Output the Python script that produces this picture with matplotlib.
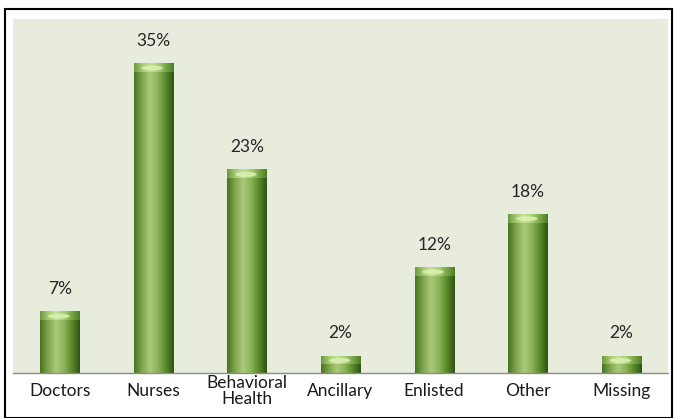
import matplotlib.pyplot as plt
import numpy as np
from matplotlib.patches import Rectangle, Ellipse
from matplotlib.colors import LinearSegmentedColormap

categories = ['Doctors', 'Nurses', 'Behavioral\nHealth', 'Ancillary', 'Enlisted', 'Other', 'Missing']
values = [7, 35, 23, 2, 12, 18, 2]

plt.rcParams['font.family'] = ['Lato', 'DejaVu Sans']

fig = plt.figure(figsize=(6.75, 4.18), dpi=100)
fig.patch.set_facecolor('white')
# outer frame
fig.add_artist(Rectangle((0.007, 0.0), 0.989, 0.978, transform=fig.transFigure,
                         fill=False, edgecolor='black', linewidth=1.5))

ax = fig.add_axes([0.019, 0.107, 0.971, 0.848])
ax.set_facecolor('#e8ecdc')
ax.set_xlim(-0.5, len(values) - 0.5)
ax.set_ylim(0, 40)

cmap = LinearSegmentedColormap.from_list('bar', ['#4a7424', '#7fa64c', '#a9ca7a', '#8db45a', '#5a8a2c', '#2f5512'])
capmap = LinearSegmentedColormap.from_list('cap', ['#6f9a40', '#a6ca72', '#c4e294', '#a9cf78', '#7aa84a', '#4f7d26'])
grad = np.linspace(0, 1, 64).reshape(1, -1)
w = 0.42
cap = 1.0
for i, v in enumerate(values):
    x0 = i - w / 2
    im = ax.imshow(grad, cmap=cmap, aspect='auto', extent=(x0, x0 + w, 0, v), zorder=2)
    im.set_clip_path(Rectangle((x0, 0), w, v, transform=ax.transData))
    # top bevel highlight
    im2 = ax.imshow(grad, cmap=capmap, aspect='auto', extent=(x0, x0 + w, v - cap, v), zorder=3)
    im2.set_clip_path(Rectangle((x0, v - cap), w, cap, transform=ax.transData))
    ax.add_patch(Ellipse((i - 0.01, v - cap * 0.55), w * 0.55, cap * 0.55,
                         facecolor='#dcf2b4', edgecolor='none', alpha=0.85, zorder=4))
    ax.text(i, v + 1.6, f'{v}%', ha='center', va='bottom', fontsize=12.5, color='#262626')

xt = ax.get_xaxis_transform()
for i, c in enumerate(categories):
    ax.text(i, -0.05, c, transform=xt, ha='center', va='center', fontsize=12.5,
            color='#1a1a1a', linespacing=0.95)
ax.set_xticks([])
ax.set_yticks([])
for s in ['top', 'right', 'left']:
    ax.spines[s].set_visible(False)
ax.spines['bottom'].set_color('#8c8c8c')
ax.spines['bottom'].set_linewidth(1)

fig.savefig('out.png', dpi=100)
